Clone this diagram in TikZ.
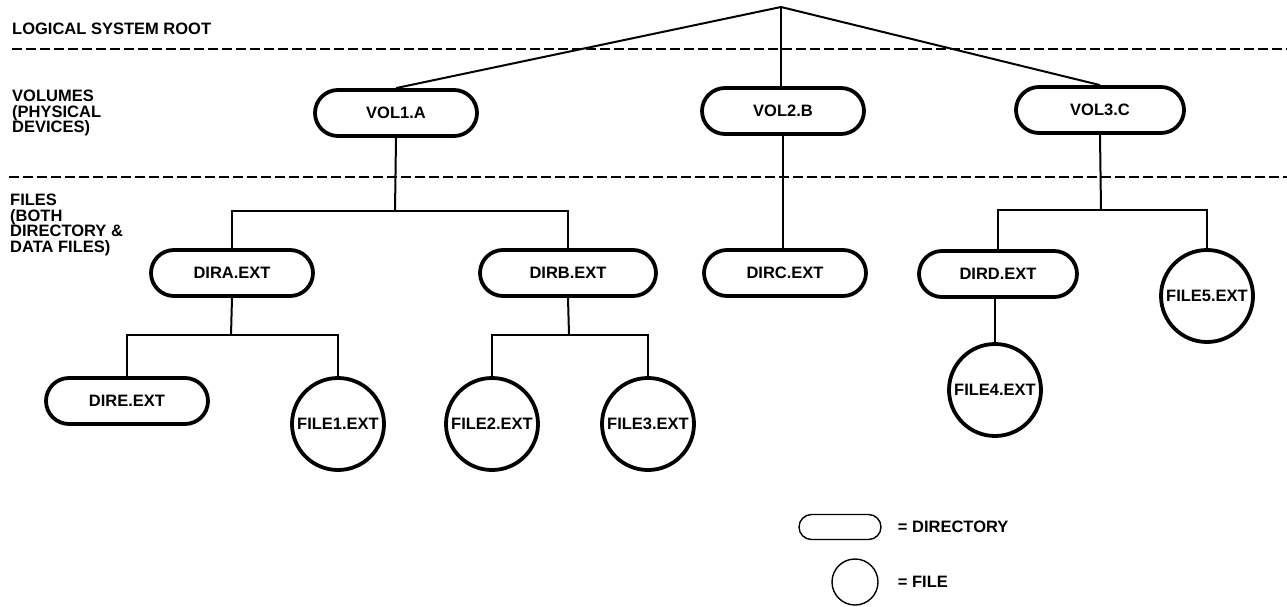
\documentclass[tikz,border=0pt]{standalone}
\usepackage{fontspec}
\setmainfont{Liberation Sans}
\usepackage{tikz}
\usetikzlibrary{positioning, shapes.misc}

\begin{document}
\begin{tikzpicture}[x=1pt, y=-1pt,
    every node/.style={font=\fontsize{16.5}{15.5}\selectfont\bfseries, inner sep=0pt},
    dirnode/.style={draw, rounded rectangle, line width=3.8pt, minimum width=162pt, minimum height=46pt},
    filenode/.style={draw, circle, line width=3.8pt, minimum size=92pt},
    link/.style={line width=2pt},
    layerline/.style={line width=1.8pt, dash pattern=on 10pt off 4pt}]
    \useasboundingbox (0,0) rectangle (1287,607);

    % Layers
    \node[anchor=base west] (root-label) at (12,35) {LOGICAL SYSTEM ROOT};
    \node[anchor=north west, align=left] (vol-label) at (12,90) {VOLUMES\\(PHYSICAL\\DEVICES)};
    \node[anchor=north west, align=left] (files-label) at (10,194) {FILES\\(BOTH\\DIRECTORY \&\\DATA FILES)};
    \draw[layerline] (12,49) -- (1287,49);
    \draw[layerline] (9,177) -- (1287,177);

    % Volumes
    \coordinate (root) at (781,7);
    \node[dirnode] (vol1) at (396,113) {VOL1.A};
    \node[dirnode] (vol2) at (783,111) {VOL2.B};
    \node[dirnode, minimum width=168pt] (vol3) at (1100,110) {VOL3.C};

    % Files
    \node[dirnode] (dira) at (232,273) {DIRA.EXT};
    \node[dirnode, minimum width=176pt] (dirb) at (568,273) {DIRB.EXT};
    \node[dirnode] (dirc) at (785,273) {DIRC.EXT};
    \node[dirnode, minimum width=158pt] (dird) at (998,274) {DIRD.EXT};
    \node[dirnode] (dire) at (127,401) {DIRE.EXT};
    \node[filenode] (file1) at (338,424) {FILE1.EXT};
    \node[filenode] (file2) at (492,424) {FILE2.EXT};
    \node[filenode] (file3) at (648,424) {FILE3.EXT};
    \node[filenode] (file4) at (995,390) {FILE4.EXT};
    \node[filenode] (file5) at (1207,296) {FILE5.EXT};

    % Connections
    \coordinate (vol1-fork) at (395,211);
    \coordinate (dira-fork) at (231,335);
    \coordinate (dirb-fork) at (569,335);
    \coordinate (vol3-fork) at (1101,210);
    \draw[link] (vol1.north) -- (root) -- (vol3.north);
    \draw[link] (root) -- (root |- vol2.north);
    \draw[link] (vol1.south) -- (vol1-fork);
    \draw[link] (dira.north) |- (vol1-fork) -| (dirb.north);
    \draw[link] (dira.south) -- (dira-fork);
    \draw[link] (dire.north) |- (dira-fork) -| (file1.north);
    \draw[link] (dirb.south) -- (dirb-fork);
    \draw[link] (file2.north) |- (dirb-fork) -| (file3.north);
    \draw[link] (vol2.south) -- (vol2.south |- dirc.north);
    \draw[link] (vol3.south) -- (vol3-fork);
    \draw[link] (dird.north) |- (vol3-fork) -| (file5.north);
    \draw[link] (file4.north) -- (file4.north |- dird.south);

    % Key
    \node[draw, rounded rectangle, line width=1.4pt, minimum width=82pt, minimum height=25pt] (key-dir) at (840,527) {};
    \node[right=16pt of key-dir] (key-dir-text) {= DIRECTORY};
    \node[draw, circle, line width=1.4pt, minimum size=46pt] (key-file) at (855,582) {};
    \node[anchor=west] (key-file-text) at (key-dir-text.west |- key-file) {= FILE};
\end{tikzpicture}
\end{document}
